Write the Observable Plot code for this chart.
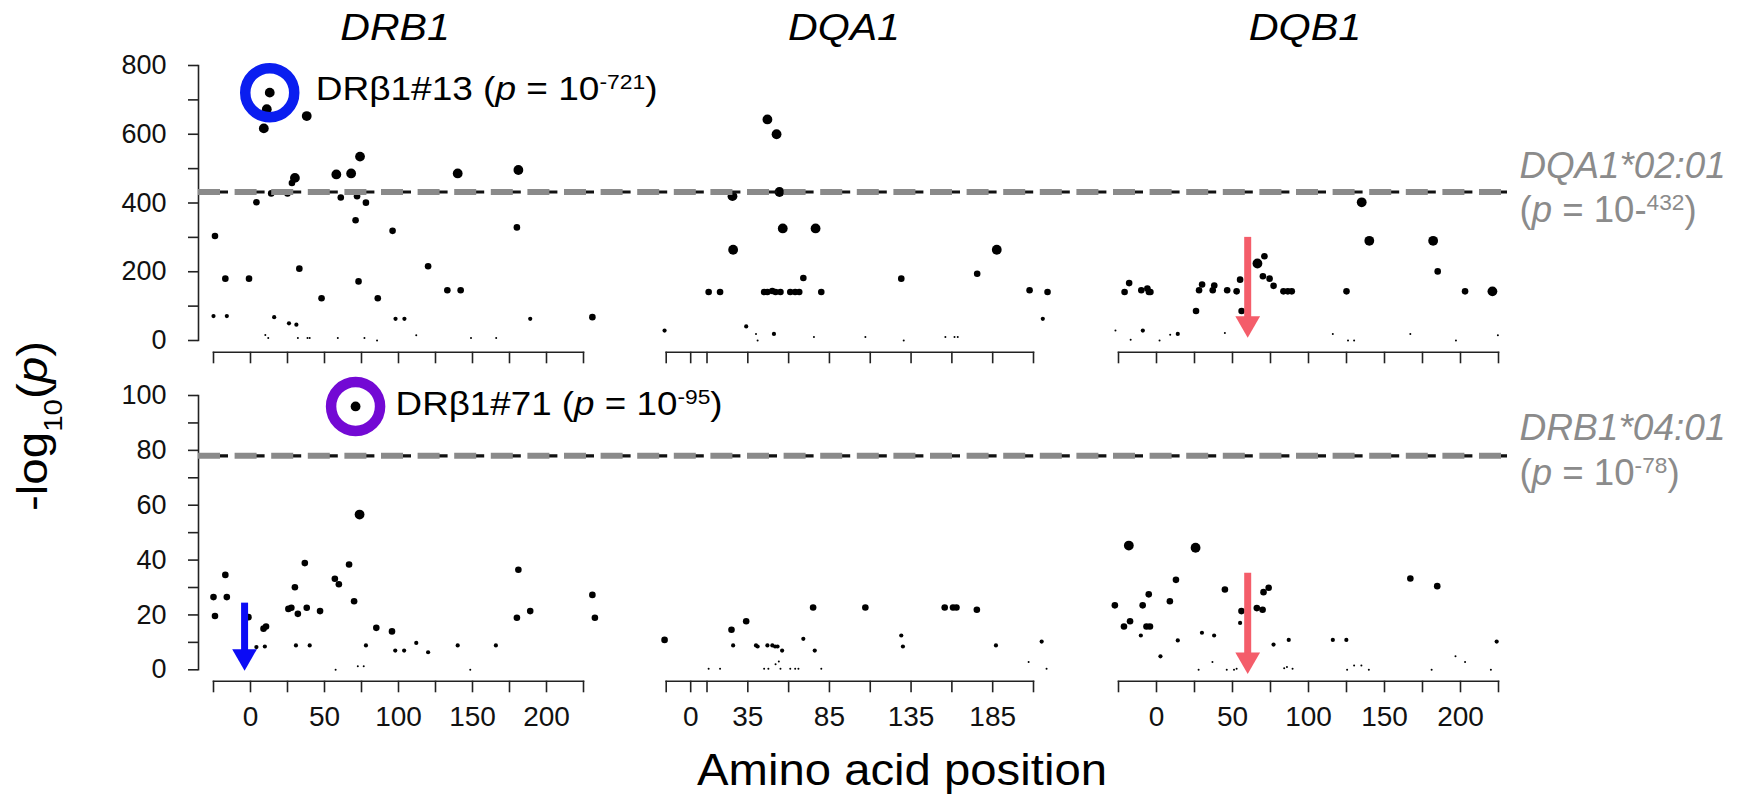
<!DOCTYPE html>
<html><head><meta charset="utf-8">
<script src="https://cdn.jsdelivr.net/npm/d3@7"></script>
<script src="https://cdn.jsdelivr.net/npm/@observablehq/plot@0.6"></script>
<style>
html,body{margin:0;padding:0;background:#fff;}
#chart{position:relative;width:1759px;height:796px;overflow:hidden;background:#fff;}
#chart svg{position:absolute;left:0;top:0;overflow:visible;}
</style></head><body><div id="chart"></div>
<script>
// ---------------- DATA ----------------
const genes = ["DRB1", "DQA1", "DQB1"];
// [amino-acid position, -log10(p), frequency class]
const drb1Top = [[-24,304,3],[-25,71,2],[-17,180,3],[-16,71,2],[-1,180,3],[4,402,3],[9,617,4],[11,673,4],[13,721,4],[14,428,3],[16,68,2],[10,16,1],[12,7,1],[25,428,3],[26,50,2],[28,458,3],[30,473,4],[31,46,2],[33,209,3],[32,7,1],[38.5,7,1],[40,7,1],[38,653,4],[48,123,3],[58,483,4],[59,7,1],[61,416,3],[68,486,4],[72,420,3],[71,350,3],[74,535,4],[73,172,3],[78,401,3],[77,7,1],[85.5,0,1],[86,123,3],[96,319,3],[98,63,2],[104,63,2],[112,15,1],[120,216,3],[133,146,3],[142,146,3],[140,486,4],[149,7,1],[166,7,1],[181,496,4],[180,329,3],[189,63,2],[231,68,3]];
const dqa1Top = [[-16,29,2],[11,141,3],[18,141,3],[26,264,4],[25.6,420,4],[34,41,2],[40,19,1],[41,0,1],[51,19,2],[47,643,4],[52.6,600,4],[54.4,432,4],[56.4,326,4],[76.5,326,4],[45,141,3],[47,141,3],[50,144,3],[52,141,3],[55,141,3],[61,141,3],[64,141,3],[66.5,141,3],[80,141,3],[69,182,3],[75.5,10,1],[107,10,1],[129,180,3],[130.5,0,1],[156,10,1],[161.6,10,1],[163.6,10,1],[175.5,194,3],[187.5,264,4],[207.6,146,3],[218.6,141,3],[215.7,63,2]];
const dqb1Top = [[-27,29,1],[-21,141,3],[-18,167,3],[-17,2,1],[-10,146,3],[-6,151,3],[-5,141,3],[-4,141,3],[-9,29,2],[2,0,1],[9,17,1],[14,19,2],[26,86,3],[28,146,3],[30,163,3],[37,146,3],[38,160,3],[45,22,1],[46.5,146,3],[52.7,143,3],[55,177,3],[56,86,3],[66.4,224,4],[71,245,3],[70,187,3],[74.4,180,3],[77,159,3],[83.5,143,3],[86.4,143,3],[89,143,3],[116,19,1],[125,143,3],[126,0,1],[130,0,1],[135,402,4],[140,290,4],[167,19,1],[182,290,4],[185,201,3],[197,0,1],[203,143,3],[221,143,4],[224.6,15,1]];
const drb1Bottom = [[-25,26.5,3],[-24,19.6,3],[-17,34.6,3],[-16,26.5,3],[-1.4,19.2,3],[4,8.3,2],[9.7,8.5,2],[8.8,15,3],[10.5,15.8,3],[25.6,22.2,3],[27.6,22.6,3],[30,30.1,3],[30.7,8.9,2],[32,20.4,3],[36.7,38.9,3],[38,22.6,3],[40,8.9,2],[47,21.4,3],[57,33.2,3],[59.7,31.2,3],[57.5,0,1],[66.6,38.4,3],[70,25,3],[71,96,4],[73.7,56.6,4],[72.5,1.3,1],[76.5,1.3,1],[78,8.9,2],[85,15.3,3],[95.6,14,3],[97.8,7,2],[103.8,7,2],[112,9.8,2],[120,6.4,2],[140,8.9,2],[148.5,0,1],[165.8,8.9,2],[181,36.5,3],[180,19,3],[189,21.4,3],[231,27.3,3],[232.7,19,3]];
const dqa1Bottom = [[-16,10.9,3],[11,0.4,1],[18,0.4,1],[25,14.6,3],[26,8.9,2],[34,17.7,3],[40,8.9,2],[41,8.5,2],[45,0.4,1],[47.6,0.4,1],[47,8.9,2],[50,8.9,2],[51.7,8.5,2],[53.2,8.5,2],[56,7,2],[52,2,1],[54,3,1],[55,0.4,1],[61,0.4,1],[64,0.4,1],[66,0.4,1],[69,11.3,2],[75,22.7,3],[76,7,2],[80,0.4,1],[107,22.7,3],[129,12.5,2],[130,8.5,2],[155.6,22.7,3],[160.7,22.7,3],[162.8,22.7,3],[175.3,21.9,3],[187,8.9,2],[207,2.8,1],[215,10.3,2],[218,0.4,1]];
const dqb1Bottom = [[-27.4,23.5,3],[-21.4,15.8,3],[-17.4,17.7,3],[-18.2,45.3,4],[-10.3,12.5,2],[-9.1,23.5,3],[-6.6,15.8,3],[-4.3,15.8,3],[-5.1,27.5,3],[2.6,4.9,2],[8.8,25,3],[12.8,32.8,3],[14,10.7,2],[25.7,44.5,4],[27.7,0,1],[29.9,13.5,2],[36.8,2.8,1],[37.9,12.5,2],[45,29.3,3],[46.2,0,1],[51,0,1],[52.7,0.4,1],[55,17.1,2],[55.9,21.4,3],[66,22.5,3],[69.8,21.9,3],[70.4,28.3,3],[73.8,29.9,3],[77,9.2,2],[84,0.6,1],[85.8,1,1],[89.5,0.4,1],[87,10.9,2],[116,10.9,2],[124.9,10.9,2],[125.4,0,1],[130,1.6,1],[134.8,1.6,1],[139.7,0,1],[167,33.3,3],[181,0,1],[184.7,30.5,3],[196.7,4.9,1],[203,2.8,1],[220,0,1],[223.8,10.3,2]];

// x-axis ticks and labels per gene
const drb1Ticks = [-25,0,25,50,75,100,125,150,175,200,225];
const dqa1Ticks = [-15,0,10,35,60,85,110,135,160,185,210];
const dqb1Ticks = [-25,0,25,50,75,100,125,150,175,200,225];
const drb1Labels = [0,50,100,150,200];
const dqa1Labels = [0,35,85,135,185];
const dqb1Labels = [0,50,100,150,200];
// y-axis ticks and labels per row
const topYTicks = [0,100,200,300,400,500,600,700,800];
const topYLabels = [0,200,400,600,800];
const bottomYTicks = [0,10,20,30,40,50,60,70,80,90,100];
const bottomYLabels = [0,20,40,60,80,100];
// significance thresholds (conditioning allele)
const thresholds = [432, 78];
const thresholdAlleles = ["DQA1*02:01", "DRB1*04:01"];
const thresholdExps = ["432", "78"];
// top hits (ringed)
const hitGenes = ["DRB1", "DRB1"];
const hitPositions = [13, 71];
const hitValues = [721, 96];
const hitNames = ["DRβ1#13", "DRβ1#71"];
const hitExps = ["721", "95"];
// arrows: [gene, position, from, to]
const arrowsTop = [["DQB1", 60, 300, 8]];
const arrowsBottom = [["DRB1", -4, 24.3, -0.3], ["DQB1", 60, 35.2, -1.5]];

// ---------------- LAYOUT / STYLE ----------------
const W = 1759, H = 796;
const FONT = "'Liberation Sans', Arial, Helvetica, sans-serif";
const radius = {1: 1.0, 2: 2.1, 3: 3.3, 4: 4.9};
const xPix = {DRB1: [213, 583], DQA1: [665.7, 1033], DQB1: [1118, 1498]};
const rows = [
  {yRange: [340, 65], axisY: 351.7, yTicks: topYTicks, yLabels: topYLabels, arrows: arrowsTop},
  {yRange: [669.3, 395], axisY: 680.7, yTicks: bottomYTicks, yLabels: bottomYLabels, arrows: arrowsBottom}
];
const geneData = {DRB1: [drb1Top, drb1Bottom], DQA1: [dqa1Top, dqa1Bottom], DQB1: [dqb1Top, dqb1Bottom]};
const geneTicks = {DRB1: drb1Ticks, DQA1: dqa1Ticks, DQB1: dqb1Ticks};
const geneLabels = {DRB1: drb1Labels, DQA1: dqa1Labels, DQB1: dqb1Labels};
const ringColors = ["#0a1ef0", "#7309d4"];
const arrowColors = {DRB1: "#0b0bf5", DQB1: "#f45d6a"};

const chart = document.getElementById("chart");
const shadow = (g, f) => d3.select(g).selectAll(`g[aria-label="${f}"]`);

function panel(gene, ri) {
  const row = rows[ri];
  const ticks = geneTicks[gene];
  const labels = geneLabels[gene];
  const pts = geneData[gene][ri].map(([pos, value, cls]) => ({pos, value, cls}));
  const hits = hitGenes.map((g, i) => ({gene: g, pos: hitPositions[i], value: hitValues[i], i}))
    .filter((d) => d.gene === gene && d.i === ri);
  const arrs = row.arrows.filter((a) => a[0] === gene).map(([g, pos, from, to]) => ({gene: g, pos, from, to}));
  const yMax = row.yTicks[row.yTicks.length - 1];
  const marks = [
    Plot.frame({anchor: "bottom", stroke: "#222", strokeWidth: 1.6}),
    Plot.axisX({ticks, tickSize: 11.6, tickPadding: 13, label: null, fontSize: 28, strokeWidth: 1.6, stroke: "#222",
      tickFormat: (d) => (ri === 1 && labels.includes(d) ? String(d) : "")}),
    Plot.dot(pts, {x: "pos", y: "value", r: (d) => radius[d.cls], fill: "black"})
  ];
  if (hits.length) marks.push(Plot.dot(hits, {x: "pos", y: "value", r: 24.5, stroke: ringColors[ri], strokeWidth: 10.5, fill: "none", ariaLabel: "ring"}));
  if (arrs.length) {
    marks.push(Plot.ruleX(arrs, {x: "pos", y1: "from", y2: "to", stroke: (d) => arrowColors[d.gene], strokeWidth: 7, insetBottom: 14, ariaLabel: "ashaft"}));
    marks.push(Plot.dot(arrs, {x: "pos", y: "to", symbol: "triangle", rotate: 180, r: 9.2, dy: -14.3, fill: (d) => arrowColors[d.gene], stroke: "none", ariaLabel: "ahead"}));
  }
  const svg = Plot.plot({
    width: W, height: H,
    marginLeft: xPix[gene][0], marginRight: W - xPix[gene][1],
    marginTop: row.yRange[1], marginBottom: H - row.axisY,
    x: {domain: [ticks[0], ticks[ticks.length - 1]], axis: null, label: null},
    y: {domain: [0, yMax], range: row.yRange, axis: null, label: null},
    r: {type: "identity"},
    color: {type: "identity"},
    style: {background: "transparent", overflow: "visible", fontFamily: FONT, fontSize: "28px", color: "#111"},
    marks
  });
  for (const f of ["ring", "ashaft", "ahead"]) shadow(svg, f).style("filter", "drop-shadow(2px 3px 2px rgba(0,0,0,0.35))");
  chart.appendChild(svg);
}

function base(ri) {
  const row = rows[ri];
  const yMax = row.yTicks[row.yTicks.length - 1];
  const svg = Plot.plot({
    width: W, height: H,
    marginLeft: 198, marginRight: W - 1507,
    marginTop: row.yRange[1], marginBottom: H - row.yRange[0],
    y: {domain: [0, yMax], axis: null, label: null},
    style: {background: "transparent", overflow: "visible", fontFamily: FONT, fontSize: "27px", color: "#111"},
    marks: [
      Plot.frame({anchor: "left", stroke: "#222", strokeWidth: 1.6}),
      Plot.axisY({ticks: row.yTicks, tickSize: 10, tickPadding: 22, label: null, fontSize: 27, strokeWidth: 1.6, stroke: "#222",
        tickFormat: (d) => (row.yLabels.includes(d) ? String(d) : "")}),
      Plot.ruleY([thresholds[ri]], {stroke: "#111", strokeWidth: 3.2, strokeDasharray: "28 8.6", strokeDashoffset: -2}),
      Plot.ruleY([thresholds[ri]], {stroke: "#8a8a8a", strokeWidth: 6, strokeDasharray: "22 14.6", ariaLabel: "gdash"})
    ]
  });
  shadow(svg, "gdash").style("filter", "drop-shadow(0px 3px 2px rgba(0,0,0,0.35))");
  chart.appendChild(svg);
}

for (let ri = 0; ri < 2; ri++) for (const g of genes) panel(g, ri);
base(0); base(1);

// ---------------- TEXT OVERLAY ----------------
const ov = d3.create("svg").attr("width", W).attr("height", H).style("overflow", "visible");
function txt(x, y, parts, o) {
  const t = ov.append("text").attr("x", x).attr("y", y)
    .attr("font-size", o.size).attr("fill", o.fill || "#000")
    .attr("text-anchor", o.anchor || "start").attr("font-family", FONT);
  if (o.italic) t.attr("font-style", "italic");
  if (o.length) t.attr("textLength", o.length).attr("lengthAdjust", "spacingAndGlyphs");
  if (o.rotate) t.attr("transform", `rotate(${o.rotate},${x},${y})`);
  for (const [s, k] of parts) {
    const ts = t.append("tspan").text(s);
    if (k === "i") ts.attr("font-style", "italic");
    if (k === "sup") ts.attr("baseline-shift", "super").attr("font-size", "62%");
    if (k === "sub") ts.attr("baseline-shift", "sub").attr("font-size", "62%");
  }
}
// gene titles
const titleX = [395, 844, 1305], titleLen = [109.5, 112, 112.6];
genes.forEach((g, i) => txt(titleX[i], 40, [[g, "n"]], {size: 37, italic: true, anchor: "middle", length: titleLen[i]}));
// y label
txt(47, 426, [["-log", "n"], ["10", "sub"], ["(", "n"], ["p", "i"], [")", "n"]], {size: 42, anchor: "middle", rotate: -90, length: 170});
// x label
txt(902, 785, [["Amino acid position", "n"]], {size: 44, anchor: "middle", length: 410});
// hit annotations
const hitX = [315.7, 395.6], hitY = [100, 415], hitLen = [342, 327];
hitNames.forEach((n, i) => txt(hitX[i], hitY[i], [[n + " (", "n"], ["p", "i"], [" = 10", "n"], ["-" + hitExps[i], "sup"], [")", "n"]], {size: 34, length: hitLen[i]}));
// threshold annotations
const thrY1 = [177.7, 440], thrY2 = [221.7, 485], thrLen1 = [206, 206], thrLen2 = [177, 160];
thresholdAlleles.forEach((a, i) => {
  txt(1519.6, thrY1[i], [[a, "n"]], {size: 36, italic: true, fill: "#8b8b8b", length: thrLen1[i]});
  const p2 = i === 0
    ? [["(", "n"], ["p", "i"], [" = 10-", "n"], [thresholdExps[i], "sup"], [")", "n"]]
    : [["(", "n"], ["p", "i"], [" = 10", "n"], ["-" + thresholdExps[i], "sup"], [")", "n"]];
  txt(1519.6, thrY2[i], p2, {size: 36, fill: "#8b8b8b", length: thrLen2[i]});
});
chart.appendChild(ov.node());
</script></body></html>
